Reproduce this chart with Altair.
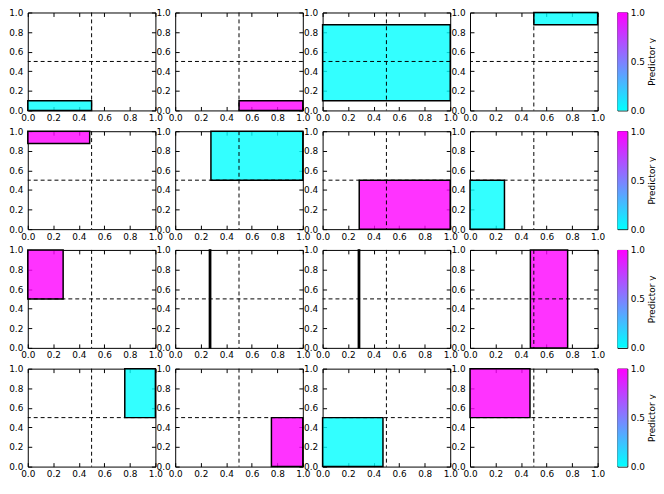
import altair as alt
import pandas as pd

# --- data (one rectangle per panel, row-major) ---
x_lo = [0.0, 0.5, 0.0, 0.5, 0.0, 0.28, 0.287, 0.0, 0.0, 0.268, 0.28, 0.473, 0.76, 0.754, 0.0, 0.0]
x_hi = [0.5, 1.0, 1.0, 1.0, 0.485, 1.0, 1.0, 0.27, 0.277, 0.278, 0.29, 0.765, 1.0, 1.0, 0.473, 0.47]
y_lo = [0.0, 0.0, 0.1, 0.874, 0.874, 0.5, 0.0, 0.0, 0.5, 0.0, 0.0, 0.0, 0.5, 0.0, 0.0, 0.5]
y_hi = [0.1, 0.1, 0.874, 1.0, 1.0, 1.0, 0.5, 0.5, 1.0, 1.0, 1.0, 1.0, 1.0, 0.5, 0.5, 1.0]
pred = [0, 1, 0, 0, 1, 0, 1, 0, 1, 1, 0, 1, 0, 1, 0, 1]

x_split = [0.5]
y_split = [0.5]
tick_vals = [0.0, 0.2, 0.4, 0.6, 0.8, 1.0]
cbar_ticks = [0.0, 0.5, 1.0]
cbar_domain = [0.0, 1.0]
cmap = ["#00ffff", "#ff00ff"]
cbar_title = "Predictor y"

FONT = "DejaVu Sans"
W, H = 129, 99
TICK = 4
INWARD = {"expr": f"-{TICK}"}

xs = alt.Scale(domain=[0, 1], nice=False, zero=False)
ys = alt.Scale(domain=[0, 1], nice=False, zero=False)


def lab_axis(orient, pad):
    # Vega offsets labels by tickSize + labelPadding, so compensate the inward ticks
    return alt.Axis(orient=orient, values=tick_vals, format=".1f", grid=False,
                    domain=False, ticks=True, tickSize=INWARD, tickColor="black",
                    tickWidth=1, labelPadding=pad + TICK, labelFlush=False,
                    labelOverlap=False, title=None)


def tick_axis(orient):
    return alt.Axis(orient=orient, values=tick_vals, grid=False, domain=False,
                    labels=False, ticks=True, tickSize=INWARD, tickColor="black",
                    tickWidth=1, title=None)


def panel(i):
    rect_df = pd.DataFrame({"x": [x_lo[i]], "x2": [x_hi[i]],
                            "y": [y_lo[i]], "y2": [y_hi[i]], "p": [pred[i]]})
    rect = alt.Chart(rect_df).mark_rect(stroke="black", strokeWidth=1.5,
                                        fillOpacity=0.8).encode(
        x=alt.X("x:Q", scale=xs, axis=lab_axis("bottom", 3)),
        x2="x2:Q",
        y=alt.Y("y:Q", scale=ys, axis=lab_axis("left", 5)),
        y2="y2:Q",
        color=alt.Color("p:Q", scale=alt.Scale(domain=cbar_domain, range=cmap),
                        legend=None),
    )
    vr = alt.Chart(pd.DataFrame({"s": x_split})).mark_rule(
        strokeDash=[4, 3], color="black", strokeWidth=1).encode(
        x=alt.X("s:Q", scale=xs, axis=tick_axis("top")))
    hr = alt.Chart(pd.DataFrame({"s": y_split})).mark_rule(
        strokeDash=[4, 3], color="black", strokeWidth=1).encode(
        y=alt.Y("s:Q", scale=ys, axis=tick_axis("right")))
    return alt.layer(rect, vr, hr).resolve_axis(
        x="independent", y="independent").properties(width=W, height=H)


def colorbar():
    cb_df = pd.DataFrame({"lo": [cbar_domain[0]], "hi": [cbar_domain[1]]})
    grad = {"gradient": "linear",
            "stops": [{"offset": 0, "color": cmap[0]}, {"offset": 1, "color": cmap[1]}],
            "x1": 0, "y1": 1, "x2": 0, "y2": 0}
    return alt.Chart(cb_df).mark_rect(color=grad).encode(
        y=alt.Y("lo:Q", scale=alt.Scale(domain=cbar_domain, nice=False, zero=False),
                axis=alt.Axis(orient="right", values=cbar_ticks, format=".1f",
                              grid=False, domain=False, ticks=False, labelPadding=3,
                              labelFlush=False, labelOverlap=False,
                              title=cbar_title, titleAngle=270, titleBaseline="top",
                              titlePadding=3)),
        y2="hi:Q",
        x=alt.value(0),
        x2=alt.value(10),
    ).properties(width=10, height=H)


rows = []
for r in range(4):
    rows.append(alt.hconcat(*[panel(4 * r + c) for c in range(4)], colorbar(),
                            spacing=20, bounds="flush"))

chart = alt.vconcat(*rows, spacing=3).configure_view(
    stroke="black", strokeWidth=1
).configure_axis(
    labelFont=FONT, labelFontSize=9, labelColor="black",
    titleFont=FONT, titleFontSize=9, titleFontWeight="normal", titleColor="black",
).properties(padding={"left": 0, "top": -3, "right": -1, "bottom": -3})

chart.save("out.html", embed_options={"renderer": "svg", "actions": False})
